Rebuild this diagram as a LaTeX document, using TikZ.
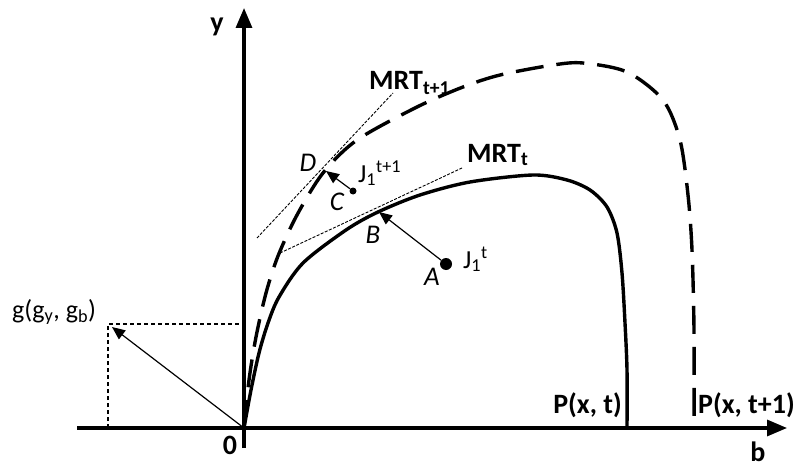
\documentclass[tikz,border=0pt]{standalone}
\usepackage{fontspec}
\setmainfont{Carlito}
\usetikzlibrary{arrows.meta}
\begin{document}
\begin{tikzpicture}[x=1pt,y=-1pt,
  axis/.style={line width=3.2pt,-{Triangle[length=20pt,width=16pt]}},
  curve/.style={line width=3.4pt},
  dashcurve/.style={line width=3.4pt,dash pattern=on 28pt off 13pt},
  thinarrow/.style={line width=1.2pt,-{Triangle[length=13pt,width=11pt]}},
  guide/.style={line width=0.9pt,dash pattern=on 3pt off 1.5pt},
  boxline/.style={line width=1.1pt,dash pattern=on 4pt off 3pt},
  boldlab/.style={font=\fontsize{28}{32}\selectfont\bfseries,inner sep=0pt},
  itlab/.style={font=\fontsize{27}{32}\selectfont\itshape,inner sep=0pt},
  small/.style={font=\fontsize{26}{30}\selectfont,inner sep=0pt},
  dotnode/.style={circle,fill,inner sep=0pt}
]
\useasboundingbox (0,0) rectangle (800,468);
% axes
\coordinate (O) at (244,428);
\coordinate (xs) at (77,428); \coordinate (xe) at (787,428);
\coordinate (ys) at (244,448); \coordinate (ye) at (244,8);
\draw[axis] (xs) -- (xe);
\draw[axis] (ys) -- (ye);
% MRT_t (solid)
\draw[curve] plot[smooth] coordinates {(244,428) (251,390) (259,353) (268,323) (279,297) (303,263) (346,230) (378,212) (420,195) (470,182) (533,175) (567,180) (590,190) (607,207) (617,233) (622,273) (625,323) (627,370) (627,428)};
% MRT_{t+1} (dashed)
\draw[dashcurve] plot[smooth] coordinates {(244,428) (249,380) (256,337) (266,293) (278,256) (297,215) (323,173) (357,140) (417,107) (463,87) (500,75) (553,65) (583,63) (627,72) (663,100) (680,140) (688,195) (692,250) (694,330) (694,428)};
% tangents
\coordinate (tD1) at (257,238); \coordinate (tD2) at (393,93);
\coordinate (tB1) at (280,253); \coordinate (tB2) at (462,168);
\draw[guide] (tD1) -- (tD2);
\draw[guide] (tB1) -- (tB2);
% points and arrows
\coordinate (B) at (379,212);
\coordinate (D) at (326,171);
\node[dotnode,minimum size=12pt] (A) at (446,264) {};
\node[dotnode,minimum size=7pt] (C) at (353,191) {};
\draw[thinarrow] (A) -- (B);
\draw[thinarrow] (C) -- (D);
% g vector
\coordinate (g) at (108,324); \coordinate (gx) at (108,428); \coordinate (gy) at (244,324);
\coordinate (gt) at (112,327);
\draw[boxline] (gx) -- (g) -- (gy);
\draw[thinarrow] (O) -- (gt);
% labels
\node[boldlab] (ylab) at (217,27) {y};
\node[boldlab] (blab) at (758,452) {b};
\node[boldlab] (zlab) at (230,445) {0};
\node[boldlab,anchor=base west] (mrt1) at (369,90) {MRT\textsubscript{t+1}};
\node[boldlab,anchor=base west] (mrt0) at (467,162) {MRT\textsubscript{t}};
\node[boldlab,anchor=base east] (p0) at (622,413) {P(x, t)};
\node[boldlab,anchor=base west] (p1) at (698,413) {P(x, t+1)};
\node[itlab] (Dlab) at (308,163) {D};
\node[itlab] (Clab) at (337,202) {C};
\node[itlab] (Blab) at (373,235) {B};
\node[itlab] (Alab) at (432,277) {A};
\node[small,anchor=base west] (J1) at (358,182) {J\textsubscript{1}\textsuperscript{t+1}};
\node[small,anchor=base west] (J0) at (463,268) {J\textsubscript{1}\textsuperscript{t}};
\node[small,anchor=base west] (glab) at (12,318) {g(g\textsubscript{y}, g\textsubscript{b})};
\end{tikzpicture}
\end{document}
